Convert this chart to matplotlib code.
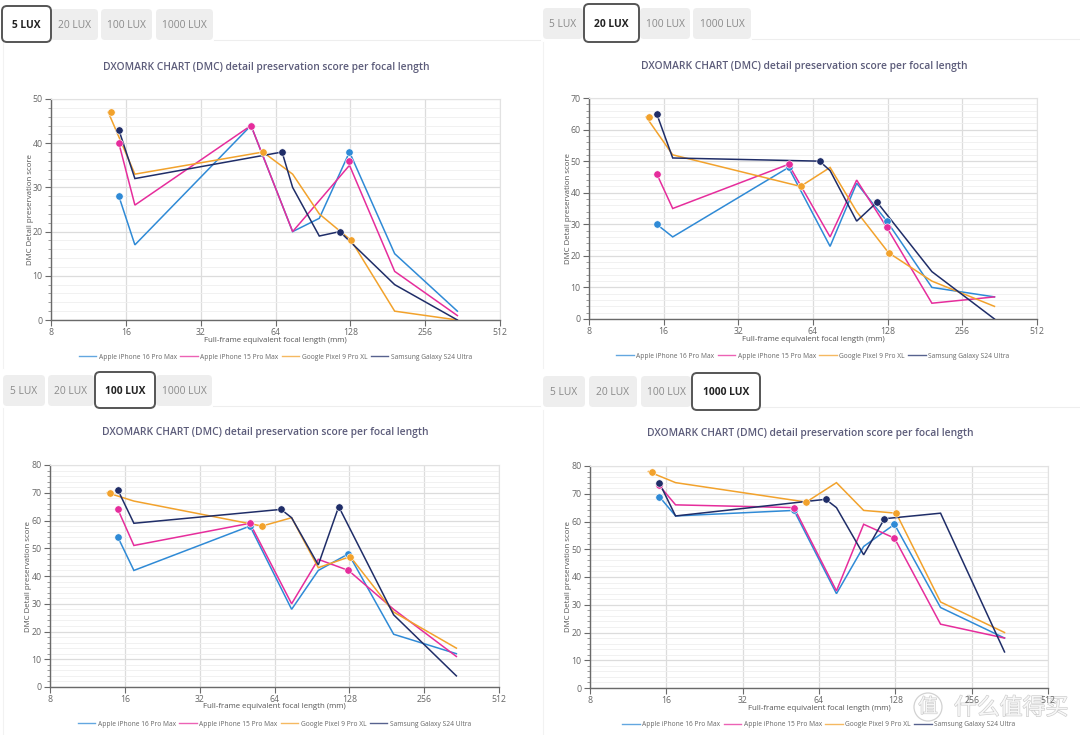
import numpy as np
import matplotlib
matplotlib.use('Agg')
import matplotlib.pyplot as plt
from matplotlib.patches import FancyBboxPatch, Circle
from matplotlib.lines import Line2D
from matplotlib.ticker import FixedLocator, FuncFormatter, MultipleLocator, NullLocator
import matplotlib.patheffects as pe

# ---------------- data ----------------
LUX_LEVELS = ['5 LUX', '20 LUX', '100 LUX', '1000 LUX']
DEVICES = ['Apple iPhone 16 Pro Max', 'Apple iPhone 15 Pro Max',
           'Google Pixel 9 Pro XL', 'Samsung Galaxy S24 Ultra']
X_TICKS = [8, 16, 32, 64, 128, 256, 512]
Y_MAX = [50, 70, 80, 80]
TITLE = 'DXOMARK CHART (DMC) detail preservation score per focal length'
XLABEL = 'Full-frame equivalent focal length (mm)'
YLABEL = 'DMC Detail preservation score'

# focal lengths (mm) of line vertices and of the highlighted camera modules
IPHONE16_FOCAL = [15, 17.4, 51, 75, 96, 127, 193, 345]
IPHONE15_FOCAL = [15, 17.4, 51, 75, 96, 127, 193, 345]
PIXEL9_FOCAL = [13.6, 17.4, 57, 75, 96, 129, 193, 345]
S24_FOCAL = [15, 17.4, 68, 75, 96, 116, 193, 345]

IPHONE16_MARK_FOCAL = [15, 51, 127]
IPHONE15_MARK_FOCAL = [15, 51, 127]
PIXEL9_MARK_FOCAL = [14, 57, 129]
S24_MARK_FOCAL = [15, 68, 116]

# scores per lux level (5, 20, 100, 1000)
IPHONE16_SCORES = [
    [28, 17, 44, 20, 23, 38, 15, 2],
    [30, 26, 48, 23, 43, 31, 10, 7],
    [54, 42, 58, 28, 42, 48, 19, 12],
    [69, 62, 64, 34, 51, 59, 29, 18],
]
IPHONE15_SCORES = [
    [40, 26, 44, 20, 27, 35, 11, 1],
    [46, 35, 49, 26, 44, 29, 5, 7],
    [64, 51, 59, 30, 46, 42, 28, 11],
    [73, 66, 65, 35, 59, 54, 23, 18],
]
PIXEL9_SCORES = [
    [47, 33, 38, 33, 24, 18, 2, 0],
    [64, 52, 42, 48, 34, 21, 12, 4],
    [70, 67, 58, 61, 43, 47, 27, 14],
    [78, 74, 67, 74, 64, 63, 31, 20],
]
S24_SCORES = [
    [43, 32, 38, 30, 19, 20, 8, 0],
    [65, 51, 50, 47, 31, 37, 15, 0],
    [71, 59, 64, 61, 44, 65, 26, 4],
    [74, 62, 68, 65, 48, 61, 63, 13],
]

IPHONE16_MARK_SCORES = [[28, 44, 38], [30, 48, 31], [54, 58, 48], [69, 64, 59]]
IPHONE15_MARK_SCORES = [[40, 44, 36], [46, 49, 29], [64, 59, 42], [73, 65, 54]]
PIXEL9_MARK_SCORES = [[47, 38, 18], [64, 42, 21], [70, 58, 47], [78, 67, 63]]
S24_MARK_SCORES = [[43, 38, 20], [65, 50, 37], [71, 64, 65], [74, 68, 61]]

# ---------------- style ----------------
COLORS = ['#2f8ad6', '#e62d9c', '#f2a22c', '#1f2d68']
FONT = ['Open Sans', 'DejaVu Sans']
plt.rcParams['font.family'] = FONT

W, H = 1080, 735
fig = plt.figure(figsize=(W / 100, H / 100), dpi=100)
fig.patch.set_facecolor('white')

bg = fig.add_axes([0, 0, 1, 1])
bg.set_xlim(0, W)
bg.set_ylim(H, 0)
bg.axis('off')

# panel layout in pixels
PANEL_ORIGIN = [(0, 0), (540, 0), (0, 370), (540, 370)]
AX_BOX = [(51, 99, 500, 320), (589, 98, 1037, 319), (50, 465, 499, 687), (590, 466, 1048, 688)]
TITLE_POS = [(266, 67), (804, 66), (265, 432), (810, 433)]
TAB_X = [
    [(2, 51), (49, 99), (100, 153), (155, 214)],
    [(542, 584), (584, 639), (639, 691), (692, 752)],
    [(2, 46), (47, 95), (95, 155), (155, 213)],
    [(542, 586), (588, 638), (640, 692), (692, 760)],
]
TAB_Y = [(9, 40), (8, 39), (375, 406), (376, 407)]
ACTIVE_Y = [(6, 42), (4, 42), (372, 408), (373, 410)]

all_focal = [IPHONE16_FOCAL, IPHONE15_FOCAL, PIXEL9_FOCAL, S24_FOCAL]
all_scores = [IPHONE16_SCORES, IPHONE15_SCORES, PIXEL9_SCORES, S24_SCORES]
all_mfocal = [IPHONE16_MARK_FOCAL, IPHONE15_MARK_FOCAL, PIXEL9_MARK_FOCAL, S24_MARK_FOCAL]
all_mscores = [IPHONE16_MARK_SCORES, IPHONE15_MARK_SCORES, PIXEL9_MARK_SCORES, S24_MARK_SCORES]


def fig_box(l, t, r, b):
    return [l / W, 1 - b / H, (r - l) / W, (b - t) / H]


for p in range(4):
    ox, oy = PANEL_ORIGIN[p]
    # separator line below tabs and faint card border
    tab_end = TAB_X[p][-1][1]
    bg.plot([tab_end, ox + 540], [TAB_Y[p][1], TAB_Y[p][1]], color='#eeeeee', lw=0.8, zorder=1)
    bg.plot([ox + 3, ox + 3], [ACTIVE_Y[p][1], oy + 368], color='#f2f2f2', lw=0.8, zorder=1)
    # tabs
    for i, (x0, x1) in enumerate(TAB_X[p]):
        if i == p:
            y0, y1 = ACTIVE_Y[p]
            patch = FancyBboxPatch((x0, y0), x1 - x0, y1 - y0,
                                   boxstyle='round,pad=0,rounding_size=5',
                                   fc='white', ec='#555555', lw=1.4, zorder=3)
            bg.add_patch(patch)
            bg.text((x0 + x1) / 2, (y0 + y1) / 2 + 1, LUX_LEVELS[i], ha='center', va='center',
                    fontsize=7.4, fontweight='bold', color='#222222', zorder=4)
        else:
            y0, y1 = TAB_Y[p]
            patch = FancyBboxPatch((x0 + 1, y0), x1 - x0 - 2, y1 - y0,
                                   boxstyle='round,pad=0,rounding_size=4',
                                   fc='#eeeeee', ec='none', zorder=2)
            bg.add_patch(patch)
            bg.text((x0 + x1) / 2, (y0 + y1) / 2 + 1, LUX_LEVELS[i], ha='center', va='center',
                    fontsize=7.4, color='#8a8a8a', zorder=4)
    # title
    tx, ty = TITLE_POS[p]
    bg.text(tx, ty, TITLE, ha='center', va='center', fontsize=7.4,
            fontweight='semibold', color='#5c5c7a')

    l, t, r, b = AX_BOX[p]
    ax = fig.add_axes(fig_box(l, t, r, b))
    ax.set_facecolor('white')
    ax.set_xscale('log', base=2)
    ax.set_xlim(8, 512)
    ax.set_ylim(0, Y_MAX[p])
    ax.xaxis.set_major_locator(FixedLocator(X_TICKS))
    ax.xaxis.set_minor_locator(NullLocator())
    ax.xaxis.set_major_formatter(FuncFormatter(lambda v, pos: f'{int(round(v))}'))
    ax.yaxis.set_major_locator(MultipleLocator(10))
    ax.yaxis.set_minor_locator(MultipleLocator(2))
    ax.grid(True, which='major', color='#dcdcdc', lw=0.9)
    ax.grid(True, which='minor', axis='y', color='#efefef', lw=0.6)
    ax.set_axisbelow(True)
    for s in ['left', 'bottom']:
        ax.spines[s].set_color('#6a6a6a')
        ax.spines[s].set_linewidth(1.0)
    for s in ['top', 'right']:
        ax.spines[s].set_color('#e2e2e2')
        ax.spines[s].set_linewidth(0.8)
    ax.tick_params(axis='both', which='major', length=4, width=0.8, color='#6a6a6a',
                   labelsize=6.3, labelcolor='#666666', pad=2)
    ax.tick_params(axis='y', which='minor', length=2, width=0.6, color='#8a8a8a')

    for d in range(4):
        ax.plot(all_focal[d], all_scores[d][p], color=COLORS[d], lw=1.1,
                solid_joinstyle='miter', zorder=3)
    for d in range(4):
        ax.plot(all_mfocal[d], all_mscores[d][p], 'o', color=COLORS[d], ms=5.3,
                mec='white', mew=0.4, zorder=4, clip_on=False)

    # axis labels (placed in pixels)
    bg.text((l + r) / 2, b + 20, XLABEL, ha='center', va='center',
            fontsize=5.7, color='#555555')
    bg.text(l - 21, (t + b) / 2, YLABEL, ha='center', va='center', rotation=90,
            fontsize=5.7, color='#555555')

    handles = [Line2D([], [], color=COLORS[d], lw=1.0, alpha=0.75) for d in range(4)]
    leg = ax.legend(handles, DEVICES, loc='center', ncol=4, frameon=False,
                    bbox_to_anchor=((l + r) / 2, b + 37), bbox_transform=bg.transData,
                    fontsize=4.8, handlelength=2.6, handletextpad=0.4, columnspacing=0.5,
                    labelcolor='#666666')

# watermark
WM_STROKE = [pe.withStroke(linewidth=0.9, foreground='#cccccc')]
bg.text(928, 707, '值', ha='center', va='center', fontsize=14, family=['Noto Sans CJK SC'],
        color='#f7f7f7', path_effects=WM_STROKE, zorder=10)
bg.add_patch(Circle((928, 707), 14, fc='none', ec='#d2d2d2', lw=0.9, zorder=10))
bg.text(1011, 708, '什么值得买', ha='center', va='center', fontsize=16.5,
        family=['Noto Sans CJK SC'], color='#f7f7f7', path_effects=WM_STROKE, zorder=10)

fig.savefig('out.png', dpi=100, facecolor='white')
